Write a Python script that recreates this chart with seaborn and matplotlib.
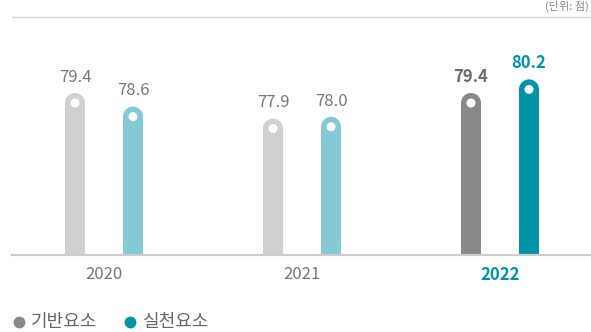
import matplotlib
matplotlib.use("Agg")
import matplotlib.pyplot as plt
from matplotlib.lines import Line2D
import seaborn as sns
import pandas as pd

# Data
years = ["2020", "2021", "2022"]
series_names = ["기반요소", "실천요소"]
base_scores = [79.4, 77.9, 79.4]
practice_scores = [78.6, 78.0, 80.2]
unit_label = "(단위: 점)"

# Colours: past years muted, latest year emphasised
past_colors = {"기반요소": "#d0d0d0", "실천요소": "#84c9d6"}
latest_colors = {"기반요소": "#888888", "실천요소": "#0093a7"}
text_gray = "#777777"

df = pd.DataFrame({
    "year": years * 2,
    "series": [series_names[0]] * 3 + [series_names[1]] * 3,
    "score": base_scores + practice_scores,
})

sns.set_theme(style="white")
plt.rcParams["font.family"] = ["Noto Sans CJK KR", "DejaVu Sans"]

W, H = 591, 332
fig = plt.figure(figsize=(W / 100, H / 100), dpi=100)
ax_left, ax_right, ax_top, ax_bottom = 12, 591, 17, 255
ax = fig.add_axes([ax_left / W, 1 - ax_bottom / H,
                   (ax_right - ax_left) / W, (ax_bottom - ax_top) / H])

group_step = 198.0      # px between year groups
first_center = 104.0    # px of the first group centre
bar_px = 20.0
offset_px = 29.0

dodge_width = 4 * offset_px / group_step
sns.barplot(data=df, x="year", y="score", hue="series", hue_order=series_names,
            palette=past_colors, width=dodge_width,
            gap=1 - bar_px / (dodge_width / 2 * group_step), legend=False,
            saturation=1, ax=ax)

px_per_unit = 17.0
ymin = 79.4 - 162 / px_per_unit
ymax = ymin + (ax_bottom - ax_top) / px_per_unit
ax.set_ylim(ymin, ymax)
x0 = (ax_left - first_center) / group_step
ax.set_xlim(x0, x0 + (ax_right - ax_left) / group_step)

# bar cap radius (10 px) in data units
r_data = (bar_px / 2) / px_per_unit
cap_size = (bar_px * 0.72) ** 2
dot_size = (9 * 0.72) ** 2

latest_idx = len(years) - 1
for i, p in enumerate(ax.patches):
    series = series_names[i // len(years)]
    yi = i % len(years)
    val = p.get_height()
    cx = p.get_x() + p.get_width() / 2
    color = latest_colors[series] if yi == latest_idx else past_colors[series]
    p.set_facecolor(color)
    p.set_edgecolor("none")
    p.set_height(val - r_data - p.get_y())
    ax.scatter([cx], [val - r_data], s=cap_size, color=color, edgecolors="none",
               zorder=3)
    ax.scatter([cx], [val - r_data], s=dot_size, color="white", edgecolors="none",
               zorder=4)
    if yi == latest_idx:
        tcolor = "#6b6b6b" if series == series_names[0] else latest_colors[series]
        weight = "bold"
    else:
        tcolor = text_gray
        weight = "light"
    ax.annotate(f"{val:.1f}", (cx, val), xytext=(0, 8), textcoords="offset points",
                ha="center", va="baseline", fontsize=12, color=tcolor,
                fontweight=weight)

# Axes styling
for side in ["left", "right"]:
    ax.spines[side].set_visible(False)
ax.spines["top"].set_color("#d6d6d6")
ax.spines["top"].set_linewidth(1.0)
ax.spines["bottom"].set_color("#cccccc")
ax.spines["bottom"].set_linewidth(1.6)
ax.set_yticks([])
ax.set_xlabel("")
ax.set_ylabel("")
ax.tick_params(axis="x", length=0, pad=8, labelsize=12, colors=text_gray)
for lbl in ax.get_xticklabels():
    lbl.set_fontweight("light")
    if lbl.get_text() == years[latest_idx]:
        lbl.set_color(latest_colors["실천요소"])
        lbl.set_fontweight("bold")

# Unit note
fig.text(589 / W, 1 - 1 / H, unit_label, ha="right", va="top",
         fontsize=8, color="#888888")

# Legend
legend_y = 1 - 321.7 / H
for cx, tx, name in [(19, 31, series_names[0]), (130, 142, series_names[1])]:
    fig.add_artist(Line2D([cx / W], [legend_y], transform=fig.transFigure,
                          marker="o", markersize=8.5, linestyle="none",
                          color=latest_colors[name], markeredgewidth=0))
    fig.text(tx / W, legend_y, name, ha="left", va="center", fontsize=13,
             color="#666666", fontweight="light")

fig.savefig("out.png", dpi=100)
